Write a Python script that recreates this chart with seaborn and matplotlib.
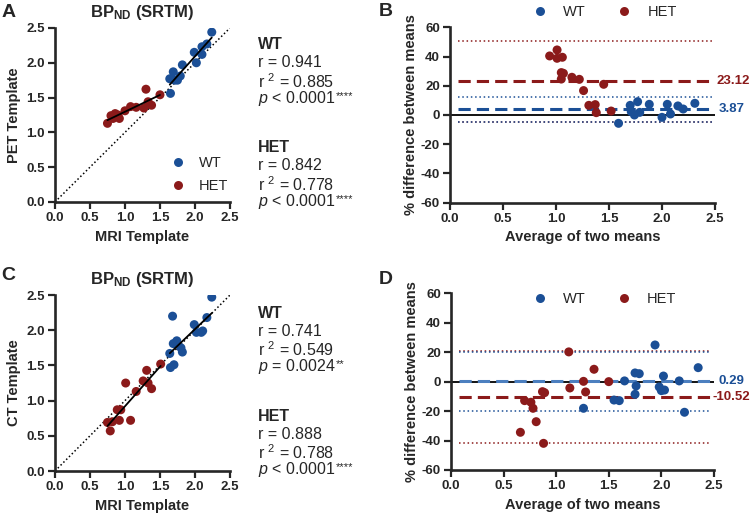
import numpy as np
import pandas as pd
import matplotlib
matplotlib.use('Agg')
import matplotlib.pyplot as plt
import seaborn as sns

# ---- data ----
# Panel A: PET template vs MRI template
a_wt_x = [1.65, 1.64, 1.69, 1.71, 1.75, 1.79, 1.82, 1.99, 2.02, 2.10, 2.10, 2.17, 2.24]
a_wt_y = [1.56, 1.77, 1.87, 1.75, 1.75, 1.81, 1.97, 2.15, 2.00, 2.12, 2.23, 2.27, 2.44]
a_het_x = [0.75, 0.80, 0.86, 0.83, 0.92, 0.90, 1.00, 1.08, 1.16, 1.30, 1.27, 1.33, 1.38, 1.50]
a_het_y = [1.13, 1.24, 1.27, 1.20, 1.20, 1.25, 1.31, 1.37, 1.36, 1.62, 1.35, 1.44, 1.39, 1.54]

# Panel B: Bland-Altman, PET vs MRI
b_wt_x = [1.59, 1.70, 1.71, 1.74, 1.77, 1.79, 1.88, 2.00, 2.05, 2.08, 2.15, 2.20, 2.31]
b_wt_y = [-5.7, 6.6, 2.3, 0.0, 9.1, 1.8, 7.3, -1.6, 7.3, 0.7, 6.2, 4.1, 8.0]
b_het_x = [0.94, 1.01, 1.01, 1.06, 1.05, 1.07, 1.05, 1.15, 1.22, 1.26, 1.31, 1.37, 1.38, 1.45, 1.52]
b_het_y = [40.4, 44.5, 38.8, 39.5, 29.0, 28.5, 24.6, 25.8, 24.4, 16.7, 6.6, 7.1, 1.6, 21.0, 2.7]
b_wt_mean, b_wt_loa = 3.87, [12.5, -4.8]
b_het_mean, b_het_loa = 23.12, [50.8, -4.6]

# Panel C: CT template vs MRI template
c_wt_x = [1.68, 1.64, 1.65, 1.70, 1.69, 1.74, 1.75, 1.80, 1.82, 1.99, 2.02, 2.09, 2.11, 2.17, 2.24]
c_wt_y = [2.20, 1.67, 1.47, 1.51, 1.81, 1.85, 1.80, 1.75, 1.69, 2.08, 1.97, 1.97, 1.99, 2.18, 2.47]
c_het_x = [0.75, 0.79, 0.82, 0.89, 0.92, 0.94, 1.01, 1.08, 1.16, 1.26, 1.31, 1.33, 1.38, 1.51]
c_het_y = [0.69, 0.57, 0.70, 0.87, 0.72, 0.87, 1.25, 0.72, 1.13, 1.28, 1.43, 1.25, 1.17, 1.52]

# Panel D: Bland-Altman, CT vs MRI
d_wt_x = [1.26, 1.55, 1.60, 1.65, 1.75, 1.75, 1.76, 1.79, 1.94, 1.98, 2.00, 2.02, 2.03, 2.17, 2.22, 2.35]
d_wt_y = [-18.1, -12.5, -12.9, 0.5, 5.9, -8.6, -2.9, 5.4, 24.9, -3.6, -6.1, 3.8, -5.7, 0.5, -20.8, 9.5]
d_het_x = [0.66, 0.70, 0.76, 0.78, 0.81, 0.87, 0.89, 0.88, 1.12, 1.13, 1.26, 1.28, 1.36, 1.50]
d_het_y = [-34.4, -12.9, -14.0, -18.1, -27.2, -6.8, -7.5, -41.9, 20.2, -4.3, 0.2, -7.0, 8.4, 0.0]
d_wt_mean, d_wt_loa = 0.29, [20.2, -19.7]
d_het_mean, d_het_loa = -10.52, [20.7, -41.7]

# group, r, r squared, p text, significance stars
stats_a = [('WT', '0.941', '0.885', '$p$ < 0.0001', '****'),
           ('HET', '0.842', '0.778', '$p$ < 0.0001', '****')]
stats_c = [('WT', '0.741', '0.549', '$p$ = 0.0024', '**'),
           ('HET', '0.888', '0.788', '$p$ < 0.0001', '****')]

BLUE = '#1B4F96'
RED = '#8B1A1A'
palette = {'WT': BLUE, 'HET': RED}

sns.set_style('ticks')
plt.rcParams['font.family'] = ['Liberation Sans', 'DejaVu Sans']
plt.rcParams['mathtext.fontset'] = 'custom'
plt.rcParams['mathtext.rm'] = 'Liberation Sans'
plt.rcParams['mathtext.it'] = 'Liberation Sans:italic'
plt.rcParams['mathtext.bf'] = 'Liberation Sans:bold'
plt.rcParams['axes.unicode_minus'] = False


def to_frame(wt_x, wt_y, het_x, het_y):
    df_wt = pd.DataFrame({'x': wt_x, 'y': wt_y, 'group': 'WT'})
    df_het = pd.DataFrame({'x': het_x, 'y': het_y, 'group': 'HET'})
    return pd.concat([df_wt, df_het], ignore_index=True)


def style_axes(ax):
    sns.despine(ax=ax)
    for s in ['left', 'bottom']:
        ax.spines[s].set_linewidth(1.9)
    ax.tick_params(width=1.6, length=4.8, direction='out', labelsize=9.5, pad=2.5)
    for lab in ax.get_xticklabels() + ax.get_yticklabels():
        lab.set_fontweight('bold')


def corr_panel(ax, df, ylabel, legend):
    ax.plot([0, 2.5], [0, 2.5], ls=(0, (1, 1.6)), color='black', lw=1.1, zorder=1)
    sns.scatterplot(data=df, x='x', y='y', hue='group', palette=palette, s=42,
                    edgecolor='none', ax=ax, legend=legend, zorder=3)
    for g in ['WT', 'HET']:
        sub = df[df['group'] == g]
        sns.regplot(data=sub, x='x', y='y', ci=None, scatter=False, truncate=True,
                    line_kws={'color': 'black', 'lw': 1.3, 'zorder': 4}, ax=ax)
    ax.set_xlim(0, 2.5)
    ax.set_ylim(0, 2.5)
    ax.set_xticks(np.arange(0, 2.51, 0.5))
    ax.set_yticks(np.arange(0, 2.51, 0.5))
    ax.xaxis.set_major_formatter(matplotlib.ticker.FormatStrFormatter('%.1f'))
    ax.yaxis.set_major_formatter(matplotlib.ticker.FormatStrFormatter('%.1f'))
    ax.set_xlabel('MRI Template', fontsize=10.5, fontweight='bold')
    ax.set_ylabel(ylabel, fontsize=10.5, fontweight='bold')
    ax.set_title('BP$_{\\mathbf{ND}}$ (SRTM)', fontsize=12, fontweight='bold', pad=8)
    if legend:
        ax.legend(loc='lower right', bbox_to_anchor=(1.04, 0.0), frameon=False,
                  fontsize=10.5, handletextpad=0.4, borderaxespad=0.2, labelspacing=0.6)
    style_axes(ax)


def ba_panel(ax, df, wt_mean, wt_loa, het_mean, het_loa, legend_y, wt_dash):
    ax.axhline(0, xmin=0, xmax=1, color='black', lw=1.3, zorder=1)
    for v in het_loa:
        ax.axhline(v, xmin=0.03, xmax=0.99, color=RED, lw=1.1, ls=(0, (1, 1.8)), zorder=1)
    for v in wt_loa:
        ax.axhline(v, xmin=0.03, xmax=0.99, color=BLUE, lw=1.1, ls=(0, (1, 1.8)), zorder=1)
    sns.scatterplot(data=df, x='x', y='y', hue='group', palette=palette, s=42,
                    edgecolor='none', ax=ax, zorder=3)
    ax.axhline(het_mean, xmin=0.03, xmax=0.99, color=RED, lw=2.2, ls=(0, (4, 2)), zorder=2)
    ax.axhline(wt_mean, xmin=0.03, xmax=0.99, color=wt_dash, lw=2.2, ls=(0, (4, 2)), zorder=2)
    ax.set_xlim(0, 2.5)
    ax.set_ylim(-60, 60)
    ax.set_xticks(np.arange(0, 2.51, 0.5))
    ax.set_yticks(np.arange(-60, 61, 20))
    ax.xaxis.set_major_formatter(matplotlib.ticker.FormatStrFormatter('%.1f'))
    ax.set_xlabel('Average of two means', fontsize=10.5, fontweight='bold')
    ax.set_ylabel('% difference between means', fontsize=10.5, fontweight='bold', labelpad=2)
    ax.legend(loc='center', bbox_to_anchor=(0.57, legend_y), ncol=2, frameon=False,
              fontsize=10.5, columnspacing=1.6, handletextpad=0.6)
    # mean value labels on the right, right aligned at the figure edge
    trans = matplotlib.transforms.blended_transform_factory(fig.transFigure, ax.transData)
    ax.text(0.997, het_mean, f'{het_mean:.2f}', transform=trans, color=RED,
            fontsize=9.5, fontweight='bold', va='center', ha='right')
    ax.text(0.99, wt_mean, f'{wt_mean:.2f}', transform=trans, color=BLUE,
            fontsize=9.5, fontweight='bold', va='center', ha='right')
    style_axes(ax)


def stats_text(fig, ax, x, y_top, stats):
    y = y_top
    for name, r, r2, p, stars in stats:
        fig.text(x, y, name, fontsize=11.5, fontweight='bold', va='center')
        fig.text(x, y - 0.035, f'r = {r}', fontsize=11.5, va='center')
        fig.text(x, y - 0.071, f'r $^{{2}}$ = {r2}', fontsize=11.5, va='center')
        t = fig.text(x, y - 0.104, p, fontsize=11.5, va='center')
        ax.annotate(stars, xy=(1.0, 0.35), xycoords=t, fontsize=8,
                    ha='left', va='bottom', annotation_clip=False)
        y -= 0.20


fig = plt.figure(figsize=(7.52, 5.15), dpi=100)
ax_a = fig.add_axes([0.0731, 0.6078, 0.2327, 0.3379])
ax_b = fig.add_axes([0.5984, 0.6064, 0.3524, 0.3406])
ax_c = fig.add_axes([0.0731, 0.0854, 0.2327, 0.3417])
ax_d = fig.add_axes([0.5997, 0.0874, 0.3497, 0.3431])

corr_panel(ax_a, to_frame(a_wt_x, a_wt_y, a_het_x, a_het_y), 'PET Template', True)
corr_panel(ax_c, to_frame(c_wt_x, c_wt_y, c_het_x, c_het_y), 'CT Template', False)
ba_panel(ax_b, to_frame(b_wt_x, b_wt_y, b_het_x, b_het_y),
         b_wt_mean, b_wt_loa, b_het_mean, b_het_loa, 1.085, BLUE)
ba_panel(ax_d, to_frame(d_wt_x, d_wt_y, d_het_x, d_het_y),
         d_wt_mean, d_wt_loa, d_het_mean, d_het_loa, 0.965, '#4C7FBF')

stats_text(fig, ax_a, 0.343, 0.913, stats_a)
stats_text(fig, ax_c, 0.343, 0.392, stats_c)

for letter, x, y in [('A', 0.002, 0.992), ('B', 0.503, 0.995),
                     ('C', 0.002, 0.482), ('D', 0.503, 0.474)]:
    fig.text(x, y, letter, fontsize=14, fontweight='bold', va='top', ha='left')

fig.savefig('out.png', dpi=100)
